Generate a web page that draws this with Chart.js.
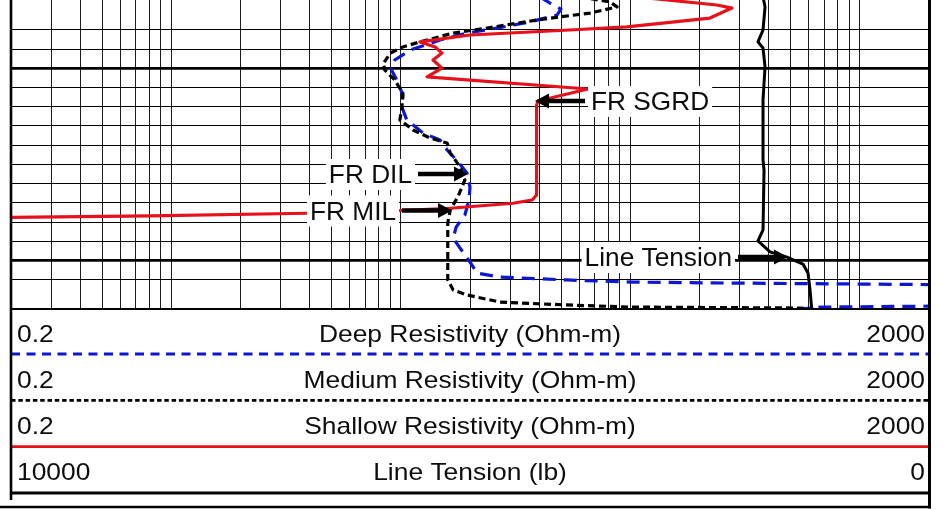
<!DOCTYPE html>
<html lang="en">
<head>
  <meta charset="UTF-8">
  <title>Resistivity / Line Tension Log</title>
  <script src="https://cdn.jsdelivr.net/npm/chart.js"></script>
  <style>
    body { margin: 0; background: #fff; }
    canvas { display: block; }
  </style>
</head>
<body>
  <canvas id="logChart" width="944" height="509"></canvas>

  <script>
    // readings listed top to bottom, depth in ft
    const deepDepth = [5062.9, 5066.1, 5069.2, 5072.3, 5075.9, 5079.1, 5081.7, 5085.3, 5090.5, 5095.7,
                       5099.9, 5106.1, 5113.9, 5120.1, 5126.9, 5133.7, 5137.3, 5142.5, 5148.2, 5154.5,
                       5161.8, 5168.5, 5176.3, 5182.6, 5188.3, 5193.5, 5200.8, 5206.5, 5208.6, 5210.1,
                       5211.2, 5211.7, 5212.5, 5212.7, 5223.6, 5224.2, 5225.2, 5227.8];
    const deepRes = [40.4, 44.6, 49.8, 47.9, 36.5, 26.2, 19.4, 14.8, 11.0, 9.4,
                     9.0, 9.6, 10.2, 10.1, 10.6, 12.5, 14.8, 15.9, 17.6, 19.4,
                     20.0, 19.8, 19.0, 17.4, 16.9, 18.1, 20.0, 21.5, 27.0, 52.9,
                     99.6, 272, 2000, 2730, 2730, 684, 548, 449];

    const mediumDepth = [5062.9, 5065.5, 5068.1, 5071.3, 5073.3, 5074.9, 5079.1, 5081.7, 5086.3, 5088.9,
                         5092.1, 5097.3, 5100.9, 5106.1, 5112.9, 5120.1, 5126.9, 5132.1, 5136.3, 5138.9,
                         5144.1, 5151.3, 5158.1, 5166.9, 5173.7, 5180.5, 5193.0, 5210.1, 5215.3, 5217.9,
                         5221.6, 5223.1, 5224.2, 5224.7, 5225.5, 5227.3];
    const mediumRes = [60.3, 81.5, 87.4, 66.7, 49.3, 39.2, 23.7, 16.9, 12.1, 10.2,
                       9.0, 8.4, 8.5, 9.4, 10.2, 10.1, 9.9, 11.3, 13.4, 15.9,
                       16.4, 18.1, 19.0, 17.7, 16.4, 16.0, 16.0, 16.0, 16.9, 19.4,
                       27.0, 52.9, 99.6, 548, 637, 741];

    const shallowDepth = [5061.9, 5064.5, 5067.1, 5068.7, 5073.9, 5078.5, 5080.1, 5082.7, 5086.3, 5088.9,
                          5092.1, 5095.7, 5099.9, 5104.5, 5110.8, 5117.0, 5119.1, 5165.9, 5168.5, 5170.2,
                          5172.8, 5174.1, 5175.4, 5176.8, 5177.6];
    const shallowRes = [90, 144, 238, 277, 222, 96.6, 54.5, 20.0, 12.1, 14.1,
                        15.1, 13.8, 15.1, 13.0, 65.3, 39.6, 39.0, 39.0, 37.3, 30.8,
                        16.4, 9.4, 3.9, 0.81, 0.2];

    const tensionDepth = [5062.9, 5068.1, 5080.1, 5086.3, 5089.5, 5099.3, 5116.5, 5147.7, 5152.9, 5184.1,
                          5189.8, 5195.5, 5198.2, 5201.8, 5206.5, 5215.3, 5226.8];
    const tension = [1808, 1786, 1808, 1863, 1808, 1786, 1808, 1808, 1797, 1808,
                     1863, 1732, 1547, 1373, 1318, 1296, 1275];

    // header rows under the track
    const headerTitles = ['Deep Resistivity (Ohm-m)', 'Medium Resistivity (Ohm-m)', 'Shallow Resistivity (Ohm-m)', 'Line Tension (lb)'];
    const headerMin = ['0.2', '0.2', '0.2', '10000'];
    const headerMax = ['2000', '2000', '2000', '0'];

    // arrow callouts: text, axis, value and depth of the arrow tip
    const calloutText = ['FR SGRD', 'FR DIL', 'FR MIL', 'Line Tension'];
    const calloutAxis = ['x', 'x', 'x', 'xT'];
    const calloutValue = [38.4, 19.6, 16.7, 1536];
    const calloutDepth = [5117.0, 5155.0, 5174.0, 5198.2];
    const calloutSide = ['right', 'left', 'left', 'left'];

    // log grid 0.2 .. 2000
    const logMantissas = [1, 2, 3, 4, 5, 6, 7, 8, 9];
    const logDecades = [0.1, 1, 10, 100, 1000];
    const resGrid = [];
    logDecades.forEach(d => logMantissas.forEach(m => {
      const v = +(d * m).toPrecision(3);
      if (v >= 0.2 && v <= 2000) resGrid.push(v);
    }));

    const depthTop = 5064.5;
    const depthBottom = 5225.2;

    const BLUE = '#0c17d4';
    const RED = '#e8101a';
    const INK = '#0d0d0d';
    const FONT = '"Liberation Sans", Arial, sans-serif';

    const toPoints = (depths, vals) => depths.map((d, i) => ({ x: vals[i], y: d }));

    function stretchedText(ctx, text, x, y, align, size, sx) {
      ctx.font = size + 'px ' + FONT;
      const w = ctx.measureText(text).width * sx;
      let left = x;
      if (align === 'center') left = x - w / 2;
      if (align === 'right') left = x - w;
      ctx.save();
      ctx.translate(left, y);
      ctx.scale(sx, 1);
      ctx.fillText(text, 0, 0);
      ctx.restore();
      return w;
    }

    function hLine(ctx, x0, x1, y, color, width, dash) {
      ctx.save();
      ctx.strokeStyle = color;
      ctx.lineWidth = width;
      ctx.setLineDash(dash || []);
      ctx.beginPath();
      ctx.moveTo(x0, y);
      ctx.lineTo(x1, y);
      ctx.stroke();
      ctx.restore();
    }

    function vLine(ctx, x, y0, y1, width) {
      ctx.save();
      ctx.strokeStyle = '#000';
      ctx.lineWidth = width;
      ctx.beginPath();
      ctx.moveTo(x, y0);
      ctx.lineTo(x, y1);
      ctx.stroke();
      ctx.restore();
    }

    const callouts = {
      id: 'callouts',
      afterDatasetsDraw(chart) {
        const ctx = chart.ctx;
        const size = 25, sx = 1.05;
        calloutText.forEach((text, i) => {
          const tipX = chart.scales[calloutAxis[i]].getPixelForValue(calloutValue[i]);
          const tipY = chart.scales.y.getPixelForValue(calloutDepth[i]);
          const dir = calloutSide[i] === 'right' ? 1 : -1;
          const startX = tipX + dir * 50;
          ctx.font = size + 'px ' + FONT;
          const w = ctx.measureText(text).width * sx;
          const textX = dir > 0 ? startX + 6 : startX - 6 - w;
          const base = tipY + 9;

          ctx.fillStyle = '#fff';
          ctx.fillRect(textX - 3, base - 24, w + 6, 31);
          ctx.fillStyle = INK;
          stretchedText(ctx, text, textX, base, 'left', size, sx);

          hLine(ctx, startX, tipX + dir * 12, tipY, '#000', 4.5);
          ctx.fillStyle = '#000';
          ctx.beginPath();
          ctx.moveTo(tipX, tipY);
          ctx.lineTo(tipX + dir * 14, tipY - 7.5);
          ctx.lineTo(tipX + dir * 14, tipY + 7.5);
          ctx.closePath();
          ctx.fill();
        });
      }
    };

    const header = {
      id: 'header',
      afterDraw(chart) {
        const ctx = chart.ctx;
        const a = chart.chartArea;
        const rowStyles = [
          { color: BLUE, width: 3, dash: [9, 6.5] },
          { color: '#000', width: 2.8, dash: [4.5, 2.8] },
          { color: RED, width: 2.6, dash: [] },
          { color: '#000', width: 3, dash: [] }
        ];

        ctx.save();
        ctx.fillStyle = INK;
        headerTitles.forEach((title, i) => {
          const base = a.bottom + 33 + i * 46;
          stretchedText(ctx, headerMin[i], a.left + 6, base, 'left', 24, 1.1);
          stretchedText(ctx, title, (a.left + a.right) / 2, base, 'center', 24, 1.1);
          stretchedText(ctx, headerMax[i], a.right - 4, base, 'right', 24, 1.1);
          const s = rowStyles[i];
          hLine(ctx, a.left, a.right, a.bottom + 45 + i * 46.3, s.color, s.width, s.dash);
        });

        // track frame
        hLine(ctx, a.left, a.right, a.bottom, '#000', 2);
        hLine(ctx, 0, a.right + 2, 507, '#000', 2.6);
        vLine(ctx, a.left, 0, 500, 2.6);
        vLine(ctx, a.right + 0.5, 0, 508.5, 3);
        ctx.restore();
      }
    };

    new Chart(document.getElementById('logChart'), {
      type: 'line',
      data: {
        datasets: [
          { label: 'Line Tension', xAxisID: 'xT', yAxisID: 'y', data: toPoints(tensionDepth, tension),
            borderColor: '#000', borderWidth: 3 },
          { label: 'Shallow Resistivity', xAxisID: 'x', yAxisID: 'y', data: toPoints(shallowDepth, shallowRes),
            borderColor: RED, borderWidth: 3.2 },
          { label: 'Medium Resistivity', xAxisID: 'x', yAxisID: 'y', data: toPoints(mediumDepth, mediumRes),
            borderColor: '#000', borderWidth: 3.2, borderDash: [7, 4] },
          { label: 'Deep Resistivity', xAxisID: 'x', yAxisID: 'y', data: toPoints(deepDepth, deepRes),
            borderColor: BLUE, borderWidth: 3.2, borderDash: [13, 8] }
        ]
      },
      options: {
        responsive: false,
        animation: false,
        events: [],
        clip: 0,
        layout: { padding: { left: 11, right: 15, top: 0, bottom: 200 } },
        plugins: { legend: { display: false }, tooltip: { enabled: false } },
        elements: {
          point: { radius: 0 },
          line: { tension: 0, borderJoinStyle: 'round' }
        },
        scales: {
          x: {
            type: 'logarithmic',
            position: 'bottom',
            min: 0.2,
            max: 2000,
            afterBuildTicks: scale => { scale.ticks = resGrid.map(v => ({ value: v })); },
            ticks: { display: false },
            grid: { color: '#1c1c1c', lineWidth: 1, drawTicks: false },
            border: { display: false }
          },
          xT: {
            type: 'linear',
            min: 0,
            max: 10000,
            reverse: true,
            display: false
          },
          y: {
            type: 'linear',
            min: depthTop,
            max: depthBottom,
            reverse: true,
            afterBuildTicks: scale => { scale.ticks = scale.ticks.filter(t => t.value % 10 === 0); },
            ticks: { display: false, stepSize: 10 },
            grid: {
              color: '#000',
              lineWidth: ctx => (ctx.tick && ctx.tick.value % 100 === 0 ? 2.7 : 1),
              drawTicks: false
            },
            border: { display: false }
          }
        }
      },
      plugins: [callouts, header]
    });
  </script>
</body>
</html>
